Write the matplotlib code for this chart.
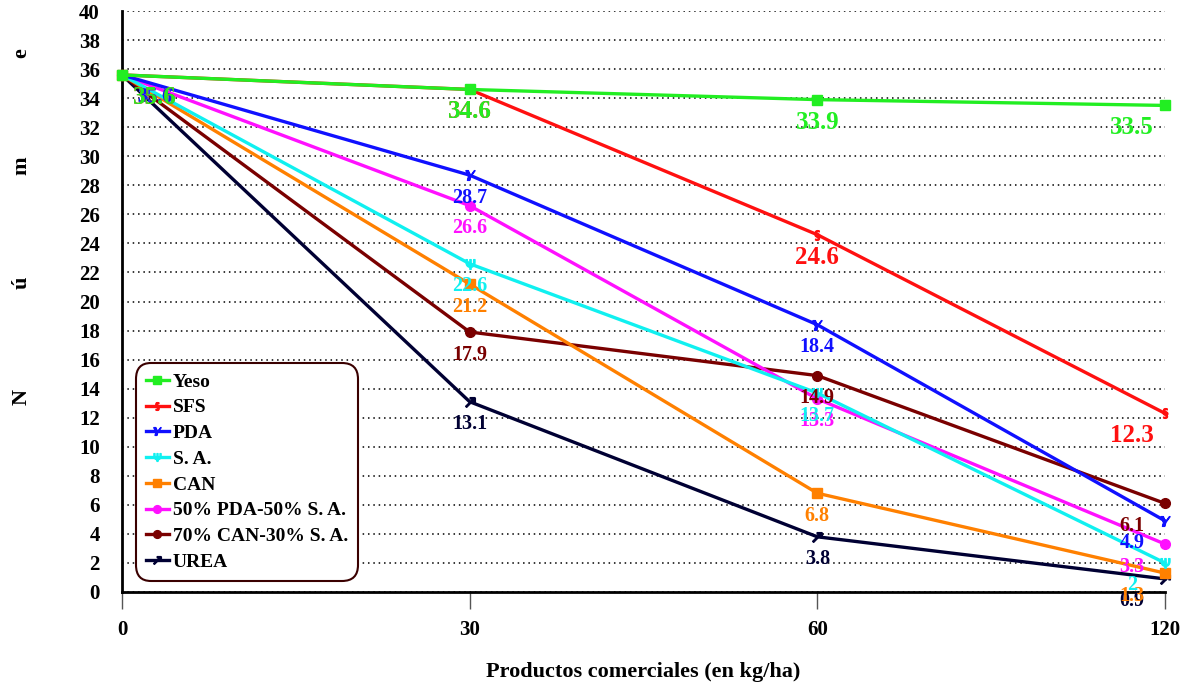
import matplotlib
matplotlib.use("Agg")
import matplotlib.pyplot as plt
import numpy as np

# --- data ---
doses = ["0", "30", "60", "120"]
series_names = ["Yeso", "SFS", "PDA", "S. A.", "CAN",
                "50% PDA-50% S. A.", "70% CAN-30% S. A.", "UREA"]
yeso = [35.6, 34.6, 33.9, 33.5]
sfs = [35.6, 34.6, 24.6, 12.3]
pda = [35.6, 28.7, 18.4, 4.9]
sa = [35.6, 22.6, 13.7, 2.0]
can = [35.6, 21.2, 6.8, 1.3]
pda_sa = [35.6, 26.6, 13.3, 3.3]
can_sa = [35.6, 17.9, 14.9, 6.1]
urea = [35.6, 13.1, 3.8, 0.9]

# --- style ---
colors = ["#22ee22", "#ff1010", "#1010ff", "#10f0f0", "#ff8000",
          "#ff10ff", "#7a0000", "#000033"]
markers = ["s", "$\\S$", "$\\mathbb{Y}$", "$\\Psi$", "s", "o", "o", "$\\nearrow$"]
label_sizes = [18, 18, 14.5, 14.5, 14.5, 14.5, 14.5, 14.5]
FONT = "Liberation Serif"

all_series = [yeso, sfs, pda, sa, can, pda_sa, can_sa, urea]

fig = plt.figure(figsize=(11.89, 6.89), dpi=100)
ax = fig.add_axes([0.1026, 0.1408, 0.8772, 0.8432])

x = np.arange(len(doses))
n = len(all_series)
for k, (vals, name, c, m, fs) in enumerate(zip(all_series, series_names, colors,
                                                markers, label_sizes)):
    z = 3 + (n - k) * 0.01  # first series (Yeso) ends up on top
    ax.plot(x, vals, color=c, lw=2.4, marker=m, markersize=7, label=name,
            clip_on=False, zorder=z)
    for i, v in enumerate(vals):
        dx = 0.095 if i == 0 else (-0.095 if i == len(vals) - 1 else 0)
        ax.text(x[i] + dx, v - 1.55, f"{v:g}", color=c, fontsize=fs,
                fontweight="bold", family=FONT, ha="center", va="center",
                zorder=z + 1)

ax.set_xlim(0, 3)
ax.set_ylim(0, 40)
ax.set_yticks(np.arange(0, 41, 2))
ax.set_xticks(x)
ax.set_xticklabels(doses)
for lab in ax.get_xticklabels() + ax.get_yticklabels():
    lab.set_family(FONT)
    lab.set_fontweight("bold")
    lab.set_fontsize(15)

ax.yaxis.grid(True, linestyle=(0, (1, 2.5)), color="black", lw=1.1)
ax.set_axisbelow(True)
ax.tick_params(axis="y", length=0, pad=16)
ax.tick_params(axis="x", length=12, width=1, color="#555555", pad=8, direction="out")
for s in ["top", "right"]:
    ax.spines[s].set_visible(False)
ax.spines["left"].set_linewidth(2)
ax.spines["bottom"].set_linewidth(2)

ax.set_xlabel("Productos comerciales (en kg/ha)", family=FONT, fontweight="bold",
              fontsize=16, labelpad=16)

# vertically spaced y label letters
for ch, yy in zip(["N", "ú", "m", "e"], [0.424, 0.589, 0.759, 0.923]):
    fig.text(0.018, yy, ch, rotation=90, family=FONT, fontweight="bold",
             fontsize=16, ha="center", va="center")

leg = ax.legend(loc="lower left", bbox_to_anchor=(0.017, 0.026),
                prop={"family": FONT, "weight": "bold", "size": 14},
                handlelength=1.2, handletextpad=0.2, labelspacing=0.42,
                borderpad=0.3, borderaxespad=0, fancybox=True,
                framealpha=1, markerscale=0.8)
leg.get_frame().set_edgecolor("#3a0000")
leg.get_frame().set_linewidth(1.5)
leg.get_frame().set_boxstyle("round", pad=0.2, rounding_size=0.8)

fig.savefig("out.png", dpi=100)
